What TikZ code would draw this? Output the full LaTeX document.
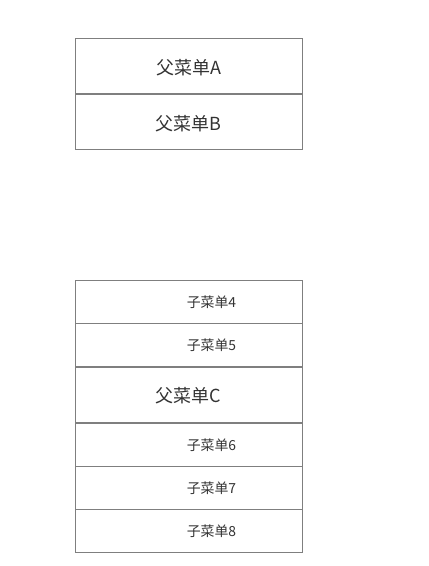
\documentclass[tikz,border=0pt]{standalone}
\usepackage{fontspec}
\setmainfont{Noto Sans CJK SC}
\usepackage{tikz}
\usetikzlibrary{positioning}
\definecolor{boxgray}{HTML}{7F7F7F}
\definecolor{textgray}{HTML}{333333}

\begin{document}
\begin{tikzpicture}[x=0.75pt, y=-0.75pt,
	parentbox/.style={draw=boxgray, line width=0.75pt, minimum width=170.25pt, minimum height=41.25pt, inner sep=0pt},
	subbox/.style={draw=boxgray, line width=0.75pt, minimum width=170.25pt, minimum height=32.25pt, inner sep=0pt},
	parentlabel/.style={text=textgray, font=\fontsize{13.5pt}{14pt}\selectfont, yshift=-1.2pt},
	sublabel/.style={text=textgray, font=\fontsize{10.4pt}{11pt}\selectfont, yshift=-0.6pt}]
	\useasboundingbox (0,0) rectangle (428,566);
	
	% upper menu
	\node[parentbox] (pa) at (188.5,66) {};
	\node[parentbox] (pb) at (188.5,122) {};
	\node[parentlabel] (ta) at (pa.center) {父菜单A};
	\node[parentlabel] (tb) at (pb.center) {父菜单B};
	
	% lower menu
	\node[subbox] (s4) at (188.5,301.5) {};
	\node[subbox] (s5) at (188.5,344.5) {};
	\node[parentbox] (pc) at (188.5,394.5) {};
	\node[subbox] (s6) at (188.5,444.5) {};
	\node[subbox] (s7) at (188.5,487.5) {};
	\node[subbox] (s8) at (188.5,530.5) {};
	
	\node[sublabel] (t4) at (211.5,301.5) {子菜单4};
	\node[sublabel] (t5) at (211.5,344.5) {子菜单5};
	\node[parentlabel] (tc) at (pc.center) {父菜单C};
	\node[sublabel] (t6) at (211.5,444.5) {子菜单6};
	\node[sublabel] (t7) at (211.5,487.5) {子菜单7};
	\node[sublabel] (t8) at (211.5,530.5) {子菜单8};
\end{tikzpicture}
\end{document}
